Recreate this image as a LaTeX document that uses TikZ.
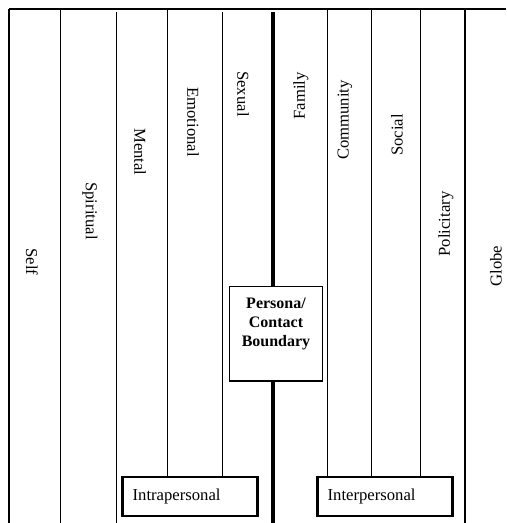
\documentclass[tikz,border=0pt]{standalone}
\usepackage{fontspec}
\setmainfont{Liberation Serif}
\usepackage{tikz}

\begin{document}
\begin{tikzpicture}[x=0.75pt,y=0.75pt,yscale=-1,xscale=1,
	thinln/.style={line width=1.1pt},
	thickln/.style={line width=3pt},
	vlabel/.style={font=\fontsize{12.5}{14}\selectfont,inner sep=0pt},
	groupbox/.style={draw,line width=1.8pt,fill=white,font=\fontsize{12.5}{14}\selectfont,text width=86pt,inner xsep=7.6pt,minimum height=29.25pt,align=left},
	personabox/.style={draw,line width=1.1pt,fill=white,minimum width=69.75pt,minimum height=70.9pt},
	personatext/.style={font=\bfseries\fontsize{12}{14.25}\selectfont,align=center,inner sep=0pt}]
	\useasboundingbox (0,0) rectangle (506,523);
	
	%Top line
	\coordinate (topl) at (9,9);
	\coordinate (topr) at (506,9);
	\draw[thinln] (topl) -- (topr);
	
	%Group boxes
	\path (190,496.5) node[groupbox] (intra) {Intrapersonal};
	\path (385,496.5) node[groupbox] (inter) {Interpersonal};
	
	%Straight Lines, full height
	\coordinate (l1) at (9,9);
	\coordinate (l2) at (60.3,9);
	\coordinate (l3) at (116.7,12.3);
	\coordinate (l10) at (465,9);
	\draw[thinln] (l1) -- (9,523);
	\draw[thinln] (l2) -- (60.3,523);
	\draw[thinln] (l3) -- (116.7,523);
	\draw[thinln] (l10) -- (465,523);
	
	%Straight Lines, down to the boxes
	\coordinate (l4) at (167.7,9);
	\coordinate (l5) at (222.3,12.3);
	\coordinate (l7) at (327.7,9);
	\coordinate (l8) at (371.7,9);
	\coordinate (l9) at (420.3,9);
	\draw[thinln] (l4) -- (l4 |- intra.north);
	\draw[thinln] (l5) -- (l5 |- intra.north);
	\draw[thinln] (l7) -- (l7 |- inter.north);
	\draw[thinln] (l8) -- (l8 |- inter.north);
	\draw[thinln] (l9) -- (l9 |- inter.north);
	
	%Boundary box and thick line
	\path (276,333.75) node[personabox] (persona) {};
	\coordinate (l6) at (272.7,12.3);
	\coordinate (l6b) at (272.7,523);
	\draw[thickln] (l6) -- (l6 |- persona.north);
	\draw[thickln] (l6b) -- (l6b |- persona.south);
	% Text Node
	\path (276,324) node[personatext] (personalbl) {Persona/\\Contact\\Boundary};
	
	% Text Nodes, intrapersonal side
	\path (32,262) node[vlabel,rotate=-90] (self) {Self};
	\path (90,211) node[vlabel,rotate=-90] (spiritual) {Spiritual};
	\path (140,152) node[vlabel,rotate=-90] (mental) {Mental};
	\path (193,122) node[vlabel,rotate=-90] (emotional) {Emotional};
	\path (243,94) node[vlabel,rotate=-90] (sexual) {Sexual};
	
	% Text Nodes, interpersonal side
	\path (301,96) node[vlabel,rotate=90] (family) {Family};
	\path (345,120) node[vlabel,rotate=90] (community) {Community};
	\path (397,135) node[vlabel,rotate=90] (social) {Social};
	\path (446,224) node[vlabel,rotate=90] (policitary) {Policitary};
	\path (496,266) node[vlabel,rotate=90] (globe) {Globe};
	
\end{tikzpicture}
\end{document}
